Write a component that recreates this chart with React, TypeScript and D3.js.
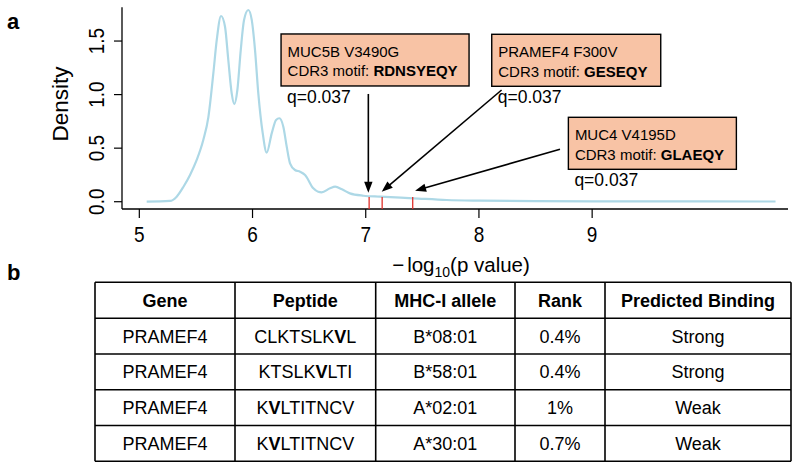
import React from "react";
import * as d3 from "d3";

// ---- density curve ----
const densX = [5.065, 5.271, 5.33, 5.39, 5.448, 5.507, 5.565, 5.61, 5.654, 5.684, 5.722, 5.757, 5.786, 5.816, 5.839, 5.866, 5.896, 5.925, 5.963, 5.993, 6.022, 6.051, 6.09, 6.125, 6.17, 6.208, 6.237, 6.272, 6.302, 6.331, 6.375, 6.42, 6.464, 6.537, 6.58, 6.61, 6.685, 6.73, 6.79, 6.86, 6.98, 7.126, 7.42, 7.715, 8.01, 8.5, 9.0, 9.5, 10.0, 10.62];
const densY = [0.0, 0.007, 0.047, 0.14, 0.25, 0.39, 0.576, 0.79, 1.2, 1.51, 1.734, 1.634, 1.323, 1.012, 0.912, 1.043, 1.416, 1.697, 1.79, 1.697, 1.416, 1.012, 0.64, 0.458, 0.64, 0.763, 0.779, 0.7, 0.514, 0.359, 0.296, 0.28, 0.25, 0.125, 0.093, 0.088, 0.125, 0.14, 0.116, 0.078, 0.056, 0.047, 0.032, 0.016, 0.01, 0.006, 0.004, 0.003, 0.003, 0.002];

const rugValues = [7.03, 7.145, 7.415];
const xTicks = [5, 6, 7, 8, 9];
const yTicks = [0, 0.5, 1.0, 1.5];

// ---- annotations ----
const annGenes = ["MUC5B V3490G", "PRAMEF4 F300V", "MUC4 V4195D"];
const annMotifs = ["RDNSYEQY", "GESEQY", "GLAEQY"];
const annQ = ["q=0.037", "q=0.037", "q=0.037"];
const annTargetX = [7.023, 7.141, 7.436];
const annTargetY = [0.084, 0.093, 0.103];

// layout of annotation boxes (data coords for anchor, px for sizes)
const annLayout = [
  { bx: 6.252, by: 1.566, w: 188, fromX: 7.023, fromY: 1.006 },
  { bx: 8.113, by: 1.563, w: 169, fromX: 8.2, fromY: 1.043 },
  { bx: 8.79, by: 0.788, w: 168, fromX: 8.716, fromY: 0.489 },
];

// ---- table ----
const colHeaders = ["Gene", "Peptide", "MHC-I allele", "Rank", "Predicted Binding"];
const genes = ["PRAMEF4", "PRAMEF4", "PRAMEF4", "PRAMEF4"];
const peptides = ["CLKTSLKVL", "KTSLKVLTI", "KVLTITNCV", "KVLTITNCV"];
const mutIdx = [7, 5, 1, 1];
const alleles = ["B*08:01", "B*58:01", "A*02:01", "A*30:01"];
const ranks = ["0.4%", "0.4%", "1%", "0.7%"];
const bindings = ["Strong", "Strong", "Weak", "Weak"];

const FONT = "'Liberation Sans', Arial, Helvetica, sans-serif";

export default function App() {
  const x = d3.scaleLinear().domain([4.847, 10.73]).range([122, 788]);
  const y = d3.scaleLinear().domain([-0.068, 1.815]).range([209, 7.3]);
  const pts = densX.map((v, i) => [v, densY[i]] as [number, number]);
  const line = d3
    .line<[number, number]>()
    .x((d) => x(d[0]))
    .y((d) => y(d[1]))
    .curve(d3.curveMonotoneX);

  const plotBottom = y.range()[0];
  const plotTop = y.range()[1];

  const colEdges = [95, 235, 375.7, 515, 605, 791];
  const rowEdges = [282.3, 318.2, 354, 389.8, 425.5, 461.2];
  const rows = genes.map((g, i) => [g, peptides[i], alleles[i], ranks[i], bindings[i]]);

  const arrowHead = (x1: number, y1: number, x2: number, y2: number) => {
    const ang = Math.atan2(y2 - y1, x2 - x1);
    const L = 11, W = 4.2;
    const bx = x2 - L * Math.cos(ang), by = y2 - L * Math.sin(ang);
    const px = -Math.sin(ang) * W, py = Math.cos(ang) * W;
    return `M${x2},${y2}L${bx + px},${by + py}L${bx - px},${by - py}Z`;
  };

  return (
    <div style={{ position: "absolute", left: 0, top: 0 }}>
      <svg width={800} height={469} style={{ display: "block", background: "#fff" }} fontFamily={FONT}>
        {/* panel labels */}
        <text x={7} y={29} fontSize={22} fontWeight="bold">a</text>
        <text x={7} y={280} fontSize={22} fontWeight="bold">b</text>

        {/* axes */}
        <line x1={x.range()[0]} x2={x.range()[0]} y1={plotTop} y2={plotBottom} stroke="#000" strokeWidth={1.3} />
        <line x1={x.range()[0]} x2={x.range()[1]} y1={plotBottom} y2={plotBottom} stroke="#000" strokeWidth={1.3} />
        {yTicks.map((t) => (
          <g key={"yt" + t}>
            <line x1={x.range()[0] - 8} x2={x.range()[0]} y1={y(t)} y2={y(t)} stroke="#000" strokeWidth={1.2} />
            <text transform={`translate(103.5,${y(t)}) rotate(-90) scale(1,1.12)`} textAnchor="middle" fontSize={19}>
              {t.toFixed(1)}
            </text>
          </g>
        ))}
        {xTicks.map((t) => (
          <g key={"xt" + t}>
            <line x1={x(t)} x2={x(t)} y1={plotBottom} y2={plotBottom + 9} stroke="#000" strokeWidth={1.2} />
            <text transform={`translate(${x(t)},241.5) scale(1,1.12)`} textAnchor="middle" fontSize={19}>
              {t}
            </text>
          </g>
        ))}
        <text transform={`translate(68,104) rotate(-90)`} textAnchor="middle" fontSize={22.5}>
          Density
        </text>
        <text x={461} y={271.5} textAnchor="middle" fontSize={20.5}>
          <tspan>{"\u2212"}</tspan>
          <tspan dx={3}>log</tspan>
          <tspan fontSize={14} dy={5}>10</tspan>
          <tspan dy={-5}>(p value)</tspan>
        </text>

        {/* density */}
        <path d={line(pts) || ""} fill="none" stroke="#ADD8E6" strokeWidth={2.2} />

        {/* rug */}
        {rugValues.map((r, i) => (
          <line key={"rug" + i} x1={x(r)} x2={x(r)} y1={plotBottom} y2={plotBottom - 12} stroke="#E0302A" strokeWidth={1.3} />
        ))}

        {/* annotations */}
        {annGenes.map((g, i) => {
          const L = annLayout[i];
          const bx = x(L.bx), by = y(L.by);
          const x1 = x(L.fromX), y1 = y(L.fromY), x2 = x(annTargetX[i]), y2 = y(annTargetY[i]);
          const ang = Math.atan2(y2 - y1, x2 - x1);
          return (
            <g key={"ann" + i}>
              <rect x={bx} y={by} width={L.w} height={52} fill="#F8C3A5" stroke="#000" strokeWidth={1.4} />
              <text x={bx + 6.5} y={by + 23} fontSize={15}>{g}</text>
              <text x={bx + 6.5} y={by + 42.5} fontSize={15}>
                <tspan>CDR3 motif: </tspan>
                <tspan fontWeight="bold">{annMotifs[i]}</tspan>
              </text>
              <text x={bx + 6} y={by + 69} fontSize={17.5}>{annQ[i]}</text>
              <line x1={x1} y1={y1} x2={x2 - 9 * Math.cos(ang)} y2={y2 - 9 * Math.sin(ang)} stroke="#000" strokeWidth={1.6} />
              <path d={arrowHead(x1, y1, x2, y2)} fill="#000" />
            </g>
          );
        })}

        {/* table */}
        {rowEdges.map((ry, i) => (
          <line key={"rl" + i} x1={colEdges[0]} x2={colEdges[colEdges.length - 1]} y1={ry} y2={ry} stroke="#000" strokeWidth={1.6} />
        ))}
        {colEdges.map((cx, i) => (
          <line key={"cl" + i} x1={cx} x2={cx} y1={rowEdges[0]} y2={rowEdges[rowEdges.length - 1]} stroke="#000" strokeWidth={1.6} />
        ))}
        {colHeaders.map((h, j) => (
          <text key={"h" + j} x={(colEdges[j] + colEdges[j + 1]) / 2} y={(rowEdges[0] + rowEdges[1]) / 2 + 6.5} textAnchor="middle" fontSize={18} fontWeight="bold">
            {h}
          </text>
        ))}
        {rows.map((r, i) =>
          r.map((c, j) => {
            const cx = (colEdges[j] + colEdges[j + 1]) / 2;
            const cy = (rowEdges[i + 1] + rowEdges[i + 2]) / 2 + 6.5;
            if (j === 1) {
              const k = mutIdx[i];
              return (
                <text key={`c${i}-${j}`} x={cx} y={cy} textAnchor="middle" fontSize={18}>
                  <tspan>{c.slice(0, k)}</tspan>
                  <tspan fontWeight="bold">{c[k]}</tspan>
                  <tspan>{c.slice(k + 1)}</tspan>
                </text>
              );
            }
            return (
              <text key={`c${i}-${j}`} x={cx} y={cy} textAnchor="middle" fontSize={18}>
                {c}
              </text>
            );
          })
        )}
      </svg>
    </div>
  );
}
